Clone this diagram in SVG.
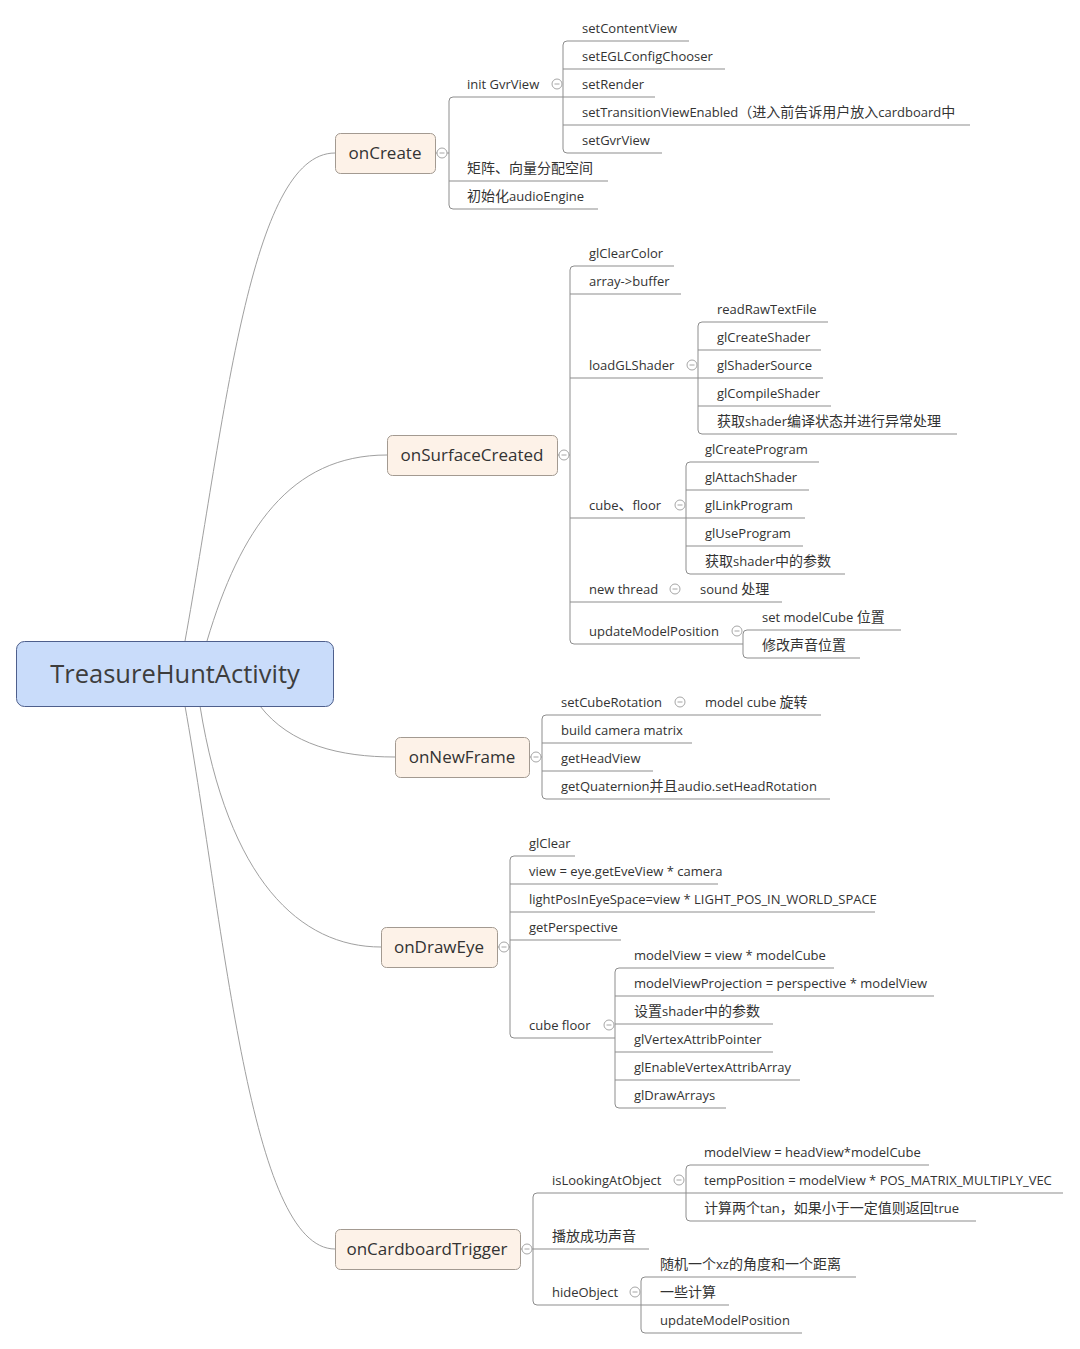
<svg xmlns="http://www.w3.org/2000/svg" width="1080" height="1349" viewBox="0 0 1080 1349">
<style>
text{font-family:"Open Sans","Noto Sans CJK SC",sans-serif;fill:#333;}
.lf{font-size:13px;}
.c{font-size:14px;}
.mt{font-size:17px;text-anchor:middle;}
.rt{font-size:25.5px;text-anchor:middle;fill:#3d3d3d;}
.box{fill:#fdf2e8;stroke:#a39a91;stroke-width:1;}
.root{fill:#c9dcfa;stroke:#4e5f8c;stroke-width:1;}
.ln{fill:none;stroke:#8d8d8d;stroke-width:1;}
.cv{fill:none;stroke:#a0a0a0;stroke-width:1;}
.ul{stroke:#8d8d8d;stroke-width:1;}
.cc{fill:#fff;stroke:#a6a6a6;stroke-width:1;}
.cm{stroke:#a6a6a6;stroke-width:1;}
</style>
<defs>
<g id="col"><circle class="cc" r="5"/><line class="cm" x1="-2.5" y1="0" x2="2.5" y2="0"/></g>
</defs>

<g id="connectors">
<!-- root curves -->
<path class="cv" d="M185,641 C225,420 250,153 335,153"/>
<path class="cv" d="M207,641 C240,530 290,455 387,455"/>
<path class="cv" d="M260,706 C290,745 340,757 395,757"/>
<path class="cv" d="M200,706 C228,880 300,947 381,947"/>
<path class="cv" d="M185,706 C225,930 250,1249 335,1249"/>

<!-- onCreate -->
<path class="ln" d="M436,153 H437 M447,153 H449"/>
<path class="ln" d="M453,97 Q449,97 449,101 V205 Q449,209 453,209"/>
<path class="ln" d="M567,41 Q563,41 563,45 V149 Q563,153 567,153"/>

<!-- onSurfaceCreated -->
<path class="ln" d="M557,455 H559 M569,455 H570"/>
<path class="ln" d="M574,266 Q570,266 570,270 V640 Q570,644 574,644"/>
<path class="ln" d="M702,322 Q698,322 698,326 V430 Q698,434 702,434"/>
<path class="ln" d="M690,462 Q686,462 686,466 V570 Q686,574 690,574"/>
<path class="ln" d="M747,630 Q743,630 743,634 V654 Q743,658 747,658"/>

<!-- onNewFrame -->
<path class="ln" d="M529,757 H531 M541,757 H542"/>
<path class="ln" d="M546,715 Q542,715 542,719 V795 Q542,799 546,799"/>

<!-- onDrawEye -->
<path class="ln" d="M497,947 H499 M509,947 H510"/>
<path class="ln" d="M514,856 Q510,856 510,860 V1034 Q510,1038 514,1038"/>
<path class="ln" d="M619,968 Q615,968 615,972 V1104 Q615,1108 619,1108"/>

<!-- onCardboardTrigger -->
<path class="ln" d="M520,1249 H522 M532,1249 H533"/>
<path class="ln" d="M537,1193 Q533,1193 533,1197 V1301 Q533,1305 537,1305"/>
<path class="ln" d="M690,1165 Q686,1165 686,1169 V1217 Q686,1221 690,1221"/>
<path class="ln" d="M645,1277 Q641,1277 641,1281 V1329 Q641,1333 645,1333"/>

<!-- collapse markers -->
<use href="#col" x="442" y="153"/>
<use href="#col" x="557" y="84"/>
<use href="#col" x="564" y="455"/>
<use href="#col" x="692" y="365"/>
<use href="#col" x="680" y="505"/>
<use href="#col" x="675" y="589"/>
<use href="#col" x="737" y="631"/>
<use href="#col" x="536" y="757"/>
<use href="#col" x="680" y="702"/>
<use href="#col" x="504" y="947"/>
<use href="#col" x="609" y="1025"/>
<use href="#col" x="527" y="1249"/>
<use href="#col" x="679" y="1180"/>
<use href="#col" x="635" y="1292"/>
</g>

<g id="root">
<rect class="root" x="16.5" y="641.5" width="317" height="65" rx="8"/>
<text class="rt" x="175" y="683">TreasureHuntActivity</text>
</g>

<!-- onCreate -->
<g id="onCreate"><rect class="box" x="335.5" y="133.5" width="100" height="40" rx="5"/><text class="mt" x="385" y="159">onCreate</text></g>
<g id="initGvrView"><text class="lf" x="467" y="89">init GvrView</text><line class="ul" x1="453" y1="97" x2="563" y2="97"/></g>
<g id="setContentView"><text class="lf" x="582" y="33">setContentView</text><line class="ul" x1="567" y1="41" x2="689" y2="41"/></g>
<g id="setEGLConfigChooser"><text class="lf" x="582" y="61">setEGLConfigChooser</text><line class="ul" x1="563" y1="69" x2="725" y2="69"/></g>
<g id="setRender"><text class="lf" x="582" y="89">setRender</text><line class="ul" x1="563" y1="97" x2="655" y2="97"/></g>
<g id="setTransitionViewEnabled"><text class="lf" x="582" y="117">setTransitionViewEnabled<tspan class="c">（进入前告诉用户放入</tspan>cardboard<tspan class="c">中</tspan></text><line class="ul" x1="563" y1="125" x2="970" y2="125"/></g>
<g id="setGvrView"><text class="lf" x="582" y="145">setGvrView</text><line class="ul" x1="567" y1="153" x2="662" y2="153"/></g>
<g id="matrixAlloc"><text class="lf" x="467" y="173"><tspan class="c">矩阵、向量分配空间</tspan></text><line class="ul" x1="449" y1="181" x2="608" y2="181"/></g>
<g id="initAudioEngine"><text class="lf" x="467" y="201"><tspan class="c">初始化</tspan>audioEngine</text><line class="ul" x1="453" y1="209" x2="598" y2="209"/></g>

<!-- onSurfaceCreated -->
<g id="onSurfaceCreated"><rect class="box" x="387.5" y="435.5" width="170" height="40" rx="5"/><text class="mt" x="472" y="461">onSurfaceCreated</text></g>
<g id="glClearColor"><text class="lf" x="589" y="258">glClearColor</text><line class="ul" x1="574" y1="266" x2="674" y2="266"/></g>
<g id="arrayBuffer"><text class="lf" x="589" y="286">array-&gt;buffer</text><line class="ul" x1="570" y1="294" x2="681" y2="294"/></g>
<g id="loadGLShader"><text class="lf" x="589" y="370">loadGLShader</text><line class="ul" x1="570" y1="378" x2="698" y2="378"/></g>
<g id="readRawTextFile"><text class="lf" x="717" y="314">readRawTextFile</text><line class="ul" x1="702" y1="322" x2="828" y2="322"/></g>
<g id="glCreateShader"><text class="lf" x="717" y="342">glCreateShader</text><line class="ul" x1="698" y1="350" x2="821" y2="350"/></g>
<g id="glShaderSource"><text class="lf" x="717" y="370">glShaderSource</text><line class="ul" x1="698" y1="378" x2="823" y2="378"/></g>
<g id="glCompileShader"><text class="lf" x="717" y="398">glCompileShader</text><line class="ul" x1="698" y1="406" x2="831" y2="406"/></g>
<g id="shaderStatus"><text class="lf" x="717" y="426"><tspan class="c">获取</tspan>shader<tspan class="c">编译状态并进行异常处理</tspan></text><line class="ul" x1="702" y1="434" x2="957" y2="434"/></g>
<g id="cubeFloor1"><text class="lf" x="589" y="510">cube<tspan class="c">、</tspan>floor</text><line class="ul" x1="570" y1="518" x2="686" y2="518"/></g>
<g id="glCreateProgram"><text class="lf" x="705" y="454">glCreateProgram</text><line class="ul" x1="690" y1="462" x2="819" y2="462"/></g>
<g id="glAttachShader"><text class="lf" x="705" y="482">glAttachShader</text><line class="ul" x1="686" y1="490" x2="809" y2="490"/></g>
<g id="glLinkProgram"><text class="lf" x="705" y="510">glLinkProgram</text><line class="ul" x1="686" y1="518" x2="805" y2="518"/></g>
<g id="glUseProgram"><text class="lf" x="705" y="538">glUseProgram</text><line class="ul" x1="686" y1="546" x2="803" y2="546"/></g>
<g id="shaderParams1"><text class="lf" x="705" y="566"><tspan class="c">获取</tspan>shader<tspan class="c">中的参数</tspan></text><line class="ul" x1="690" y1="574" x2="845" y2="574"/></g>
<g id="newThread"><text class="lf" x="589" y="594">new thread</text><line class="ul" x1="570" y1="602" x2="700" y2="602"/></g>
<g id="soundProc"><text class="lf" x="700" y="594">sound <tspan class="c">处理</tspan></text><line class="ul" x1="700" y1="602" x2="782" y2="602"/></g>
<g id="updateModelPosition1"><text class="lf" x="589" y="636">updateModelPosition</text><line class="ul" x1="574" y1="644" x2="743" y2="644"/></g>
<g id="setModelCubePos"><text class="lf" x="762" y="622">set modelCube <tspan class="c">位置</tspan></text><line class="ul" x1="747" y1="630" x2="901" y2="630"/></g>
<g id="changeSoundPos"><text class="lf" x="762" y="650"><tspan class="c">修改声音位置</tspan></text><line class="ul" x1="747" y1="658" x2="860" y2="658"/></g>

<!-- onNewFrame -->
<g id="onNewFrame"><rect class="box" x="395.5" y="737.5" width="134" height="40" rx="5"/><text class="mt" x="462" y="763">onNewFrame</text></g>
<g id="setCubeRotation"><text class="lf" x="561" y="707">setCubeRotation</text><line class="ul" x1="546" y1="715" x2="705" y2="715"/></g>
<g id="modelCubeRotate"><text class="lf" x="705" y="707">model cube <tspan class="c">旋转</tspan></text><line class="ul" x1="705" y1="715" x2="821" y2="715"/></g>
<g id="buildCamera"><text class="lf" x="561" y="735">build camera matrix</text><line class="ul" x1="542" y1="743" x2="692" y2="743"/></g>
<g id="getHeadView"><text class="lf" x="561" y="763">getHeadView</text><line class="ul" x1="542" y1="771" x2="653" y2="771"/></g>
<g id="getQuaternion"><text class="lf" x="561" y="791">getQuaternion<tspan class="c">并且</tspan>audio.setHeadRotation</text><line class="ul" x1="546" y1="799" x2="830" y2="799"/></g>

<!-- onDrawEye -->
<g id="onDrawEye"><rect class="box" x="381.5" y="927.5" width="116" height="40" rx="5"/><text class="mt" x="439" y="953">onDrawEye</text></g>
<g id="glClear"><text class="lf" x="529" y="848">glClear</text><line class="ul" x1="514" y1="856" x2="575" y2="856"/></g>
<g id="viewEq"><text class="lf" x="529" y="876">view = eye.getEveView * camera</text><line class="ul" x1="510" y1="884" x2="718" y2="884"/></g>
<g id="lightPos"><text class="lf" x="529" y="904">lightPosInEyeSpace=view * LIGHT_POS_IN_WORLD_SPACE</text><line class="ul" x1="510" y1="912" x2="875" y2="912"/></g>
<g id="getPerspective"><text class="lf" x="529" y="932">getPerspective</text><line class="ul" x1="510" y1="940" x2="621" y2="940"/></g>
<g id="cubeFloor2"><text class="lf" x="529" y="1030">cube floor</text><line class="ul" x1="514" y1="1038" x2="615" y2="1038"/></g>
<g id="modelViewEq"><text class="lf" x="634" y="960">modelView = view * modelCube</text><line class="ul" x1="619" y1="968" x2="834" y2="968"/></g>
<g id="mvpEq"><text class="lf" x="634" y="988">modelViewProjection = perspective * modelView</text><line class="ul" x1="615" y1="996" x2="934" y2="996"/></g>
<g id="setShaderParams"><text class="lf" x="634" y="1016"><tspan class="c">设置</tspan>shader<tspan class="c">中的参数</tspan></text><line class="ul" x1="615" y1="1024" x2="773" y2="1024"/></g>
<g id="glVertexAttribPointer"><text class="lf" x="634" y="1044">glVertexAttribPointer</text><line class="ul" x1="615" y1="1052" x2="773" y2="1052"/></g>
<g id="glEnableVertexAttribArray"><text class="lf" x="634" y="1072">glEnableVertexAttribArray</text><line class="ul" x1="615" y1="1080" x2="800" y2="1080"/></g>
<g id="glDrawArrays"><text class="lf" x="634" y="1100">glDrawArrays</text><line class="ul" x1="619" y1="1108" x2="726" y2="1108"/></g>

<!-- onCardboardTrigger -->
<g id="onCardboardTrigger"><rect class="box" x="335.5" y="1229.5" width="185" height="40" rx="5"/><text class="mt" x="427" y="1255">onCardboardTrigger</text></g>
<g id="isLookingAtObject"><text class="lf" x="552" y="1185">isLookingAtObject</text><line class="ul" x1="537" y1="1193" x2="686" y2="1193"/></g>
<g id="modelViewHead"><text class="lf" x="704" y="1157">modelView = headView*modelCube</text><line class="ul" x1="690" y1="1165" x2="929" y2="1165"/></g>
<g id="tempPosition"><text class="lf" x="704" y="1185">tempPosition = modelView * POS_MATRIX_MULTIPLY_VEC</text><line class="ul" x1="686" y1="1193" x2="1063" y2="1193"/></g>
<g id="calcTan"><text class="lf" x="704" y="1213"><tspan class="c">计算两个</tspan>tan<tspan class="c">，如果小于一定值则返回</tspan>true</text><line class="ul" x1="690" y1="1221" x2="976" y2="1221"/></g>
<g id="playSound"><text class="lf" x="552" y="1241"><tspan class="c">播放成功声音</tspan></text><line class="ul" x1="533" y1="1249" x2="649" y2="1249"/></g>
<g id="hideObject"><text class="lf" x="552" y="1297">hideObject</text><line class="ul" x1="537" y1="1305" x2="641" y2="1305"/></g>
<g id="randomAngle"><text class="lf" x="660" y="1269"><tspan class="c">随机一个</tspan>xz<tspan class="c">的角度和一个距离</tspan></text><line class="ul" x1="645" y1="1277" x2="856" y2="1277"/></g>
<g id="someCalc"><text class="lf" x="660" y="1297"><tspan class="c">一些计算</tspan></text><line class="ul" x1="641" y1="1305" x2="729" y2="1305"/></g>
<g id="updateModelPosition2"><text class="lf" x="660" y="1325">updateModelPosition</text><line class="ul" x1="645" y1="1333" x2="802" y2="1333"/></g>
</svg>
